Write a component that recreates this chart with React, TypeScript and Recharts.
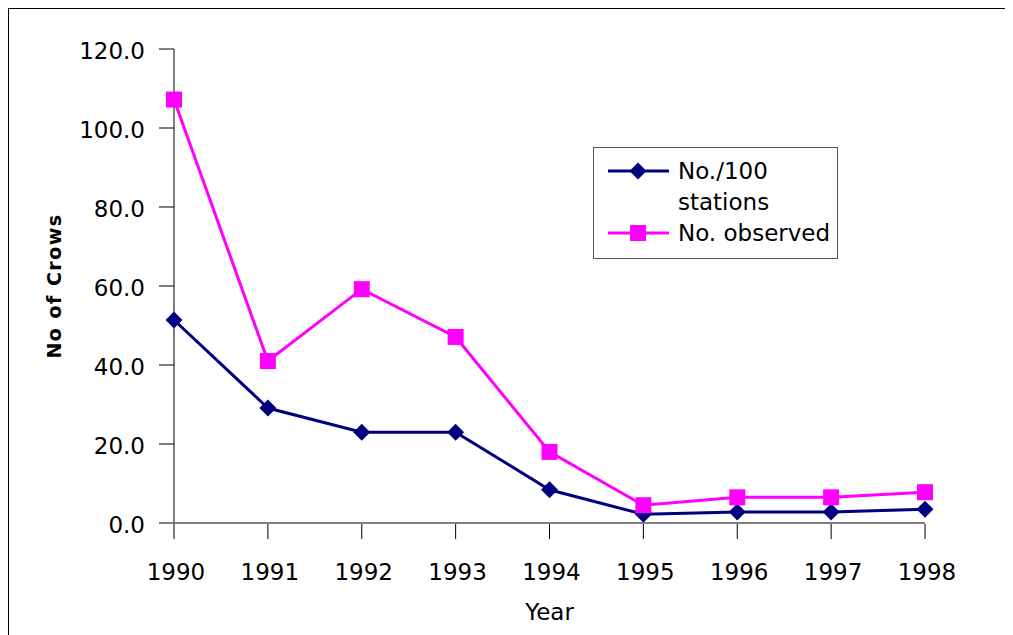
import React from 'react';
import { LineChart, Line, XAxis, YAxis } from 'recharts';

const years = ['1990', '1991', '1992', '1993', '1994', '1995', '1996', '1997', '1998'];
const perStations = [51.4, 29.1, 23.0, 23.0, 8.4, 2.2, 2.8, 2.8, 3.5];
const observed = [107.2, 41.0, 59.2, 47.1, 18.0, 4.5, 6.5, 6.5, 7.8];
const yTicks = [0, 20, 40, 60, 80, 100, 120];
const seriesNames = ['No./100', 'stations', 'No. observed'];

const data = years.map((y, i) => ({ year: y, a: perStations[i], b: observed[i] }));

const FONT = '"DejaVu Sans", Verdana, sans-serif';
const NAVY = '#000080';
const MAGENTA = '#FF00FF';

const Diamond = (props: any) => {
  const { cx, cy } = props;
  if (cx == null || cy == null) return null;
  const r = 8.5;
  return <path d={`M${cx},${cy - r}L${cx + r},${cy}L${cx},${cy + r}L${cx - r},${cy}Z`} fill={NAVY} />;
};

const Square = (props: any) => {
  const { cx, cy } = props;
  if (cx == null || cy == null) return null;
  const s = 8;
  return <rect x={cx - s} y={cy - s} width={2 * s} height={2 * s} fill={MAGENTA} />;
};

const YTick = (props: any) => {
  const { x, y, payload } = props;
  const ax = x;
  return (
    <g>
      <line x1={ax - 7} x2={ax + 8} y1={y} y2={y} stroke="#000" strokeWidth={1} />
      <text x={ax - 21} y={y + 10} textAnchor="end" fontFamily={FONT} fontSize={23} fill="#000">
        {Number(payload.value).toFixed(1)}
      </text>
    </g>
  );
};

const XTick = (props: any) => {
  const { x, y, payload } = props;
  return (
    <g>
      <line x1={x} x2={x} y1={y - 7} y2={y + 8} stroke="#000" strokeWidth={1} />
      <text x={x + 2} y={y + 49} textAnchor="middle" fontFamily={FONT} fontSize={23} fill="#000">
        {payload.value}
      </text>
    </g>
  );
};

const YLabel = (props: any) => {
  const vb = props.viewBox || {};
  const cy = (vb.y ?? 0) + (vb.height ?? 0) / 2;
  const x = 52;
  return (
    <text
      x={x}
      y={cy}
      transform={`rotate(-90, ${x}, ${cy})`}
      textAnchor="middle"
      fontFamily={FONT}
      fontSize={19}
      fontWeight="bold"
      letterSpacing={1.5}
      fill="#000"
    >
      No of Crows
    </text>
  );
};

const LegendBox = () => (
  <div
    style={{
      position: 'absolute',
      left: 584,
      top: 138,
      width: 245,
      height: 112,
      border: '1px solid #555',
      background: '#fff',
      boxSizing: 'border-box',
    }}
  >
    <svg width={243} height={110} style={{ position: 'absolute', left: 0, top: 0 }}>
      <line x1={14} x2={75} y1={23} y2={23} stroke={NAVY} strokeWidth={3} />
      <path d="M44,14.5L52.5,23L44,31.5L35.5,23Z" fill={NAVY} />
      <text x={84} y={31} fontFamily={FONT} fontSize={23} fill="#000">{seriesNames[0]}</text>
      <text x={84} y={62} fontFamily={FONT} fontSize={23} fill="#000">{seriesNames[1]}</text>
      <line x1={14} x2={75} y1={85} y2={85} stroke={MAGENTA} strokeWidth={3} />
      <rect x={36} y={77} width={16} height={16} fill={MAGENTA} />
      <text x={84} y={93} fontFamily={FONT} fontSize={23} fill="#000">{seriesNames[2]}</text>
    </svg>
  </div>
);

export default function App() {
  return (
    <div style={{ width: 1000, height: 640, border: '1px solid #000', background: '#fff', position: 'relative' }}>
      <LineChart
        width={1000}
        height={640}
        data={data}
        margin={{ top: 40, right: 84, bottom: 66, left: 65 }}
      >
        <XAxis
          dataKey="year"
          axisLine={{ stroke: '#808080', strokeWidth: 2 }}
          tickLine={false}
          tick={<XTick />}
          height={60}
          interval={0}
          label={{ value: 'Year', position: 'insideBottom', offset: -37, fontFamily: FONT, fontSize: 23, fill: '#000' }}
        />
        <YAxis
          domain={[0, 120]}
          ticks={yTicks}
          width={100}
          axisLine={{ stroke: '#808080', strokeWidth: 2 }}
          tickLine={false}
          tick={<YTick />}
          interval={0}
          label={<YLabel />}
        />
        <Line
          dataKey="a"
          name="No./100 stations"
          stroke={NAVY}
          strokeWidth={3}
          dot={<Diamond />}
          activeDot={false}
          isAnimationActive={false}
        />
        <Line
          dataKey="b"
          name="No. observed"
          stroke={MAGENTA}
          strokeWidth={3}
          dot={<Square />}
          activeDot={false}
          isAnimationActive={false}
        />
      </LineChart>
      <LegendBox />
    </div>
  );
}
